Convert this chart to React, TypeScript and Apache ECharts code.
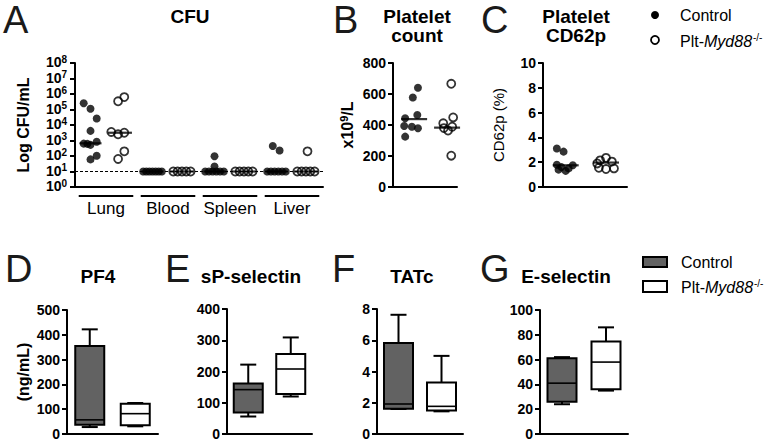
import React, { useEffect, useRef } from 'react';
import * as echarts from 'echarts';

const FONT = '"Liberation Sans", Arial, Helvetica, sans-serif';

// ---------- Panel A: CFU (log10 CFU/mL) ----------
const tissues = ['Lung', 'Blood', 'Spleen', 'Liver'];
const lungCtrl = [5.4, 5.05, 4.42, 3.62, 2.8, 2.78, 2.72, 2.92, 1.78, 2.02];
const lungCtrlJit = [-0.22, 0, 0.2, 0, -0.22, -0.1, 0, 0.2, 0, 0.2];
const lungKo = [5.8, 5.53, 3.55, 3.4, 3.5, 2.3, 1.81];
const lungKoJit = [0.14, -0.06, -0.28, -0.06, 0.14, 0.14, -0.06];
const bloodCtrl = [1, 1, 1, 1, 1, 1, 1];
const bloodCtrlJit = [-0.3, -0.2, -0.1, 0, 0.1, 0.2, 0.3];
const bloodKo = [1, 1, 1, 1, 1];
const bloodKoJit = [-0.28, -0.14, 0, 0.14, 0.28];
const spleenCtrl = [1.98, 1.32, 1, 1, 1, 1, 1, 1];
const spleenCtrlJit = [0, 0, -0.3, -0.18, -0.06, 0.06, 0.18, 0.3];
const spleenKo = [1, 1, 1, 1, 1];
const spleenKoJit = [-0.28, -0.14, 0, 0.14, 0.28];
const liverCtrl = [2.65, 2.35, 1, 1, 1, 1, 1, 1];
const liverCtrlJit = [-0.12, 0.1, -0.3, -0.18, -0.06, 0.06, 0.18, 0.3];
const liverKo = [2.3, 1, 1, 1, 1, 1];
const liverKoJit = [0.05, -0.28, -0.14, 0, 0.14, 0.28];
const cfuMedianCtrl = [2.82, 1, 1, 1];
const cfuMedianKo = [3.5, 1, 1, 1];
const detectionLimit = 1;
const cfuExponents = [0, 8];

// ---------- Panel B: platelet count (x10^9/L) ----------
const plateletCtrl = [640, 577, 464, 443, 394, 389, 379, 325];
const plateletCtrlJit = [0.12, -0.04, 0.1, -0.28, -0.31, -0.07, 0.12, -0.28];
const plateletKo = [666, 449, 411, 389, 380, 364, 202];
const plateletKoJit = [0.13, 0.19, -0.12, 0.16, -0.1, 0.03, 0.13];
const plateletMedian = [438, 383];

// ---------- Panel C: platelet CD62p (%) ----------
const cd62pCtrl = [3.1, 2.85, 1.8, 1.75, 1.6, 1.5, 1.4, 1.3];
const cd62pCtrlJit = [-0.21, -0.05, -0.21, 0.17, -0.1, 0.07, -0.17, 0];
const cd62pKo = [2.35, 2.15, 2.05, 1.9, 1.55, 1.5, 1.45];
const cd62pKoJit = [0, -0.14, 0.14, -0.21, -0.17, 0.19, 0];
const cd62pMedian = [1.75, 1.97];

// ---------- Panels D-G: box plots [min, Q1, median, Q3, max] ----------
const groups = ['Control', 'Plt-Myd88-/-'];
const pf4Ctrl = [28, 37, 57, 355, 422];
const pf4Ko = [31, 35, 82, 122, 125];
const sPselCtrl = [56, 69, 142, 162, 222];
const sPselKo = [120, 128, 208, 256, 309];
const tatcCtrl = [1.6, 1.62, 1.92, 5.82, 7.63];
const tatcKo = [1.45, 1.5, 1.77, 3.3, 5.0];
const eSelCtrl = [24, 26, 41, 61, 62];
const eSelKo = [35, 36, 58, 74.5, 86];

const BLACK = '#000';
const GRAY = '#626262';

function pts(vals: number[], jit: number[], pos: number) {
  return vals.map((v, i) => [pos + jit[i], v]);
}

function yAxis(gridIndex: number, min: number, max: number, interval: number, extra: any = {}) {
  return {
    type: 'value',
    gridIndex,
    min,
    max,
    interval,
    axisLine: { show: true, lineStyle: { color: BLACK, width: 2 } },
    axisTick: { show: true, length: 5, lineStyle: { color: BLACK, width: 2 } },
    axisLabel: {
      color: BLACK, fontSize: 14, fontWeight: 'bold', fontFamily: FONT, margin: 7,
      showMinLabel: true, showMaxLabel: true, hideOverlap: false,
    },
    splitLine: { show: false },
    nameLocation: 'middle',
    nameTextStyle: { color: BLACK, fontFamily: FONT, fontSize: 16, fontWeight: 'bold' },
    ...extra,
  };
}

function xAxis(gridIndex: number, extra: any) {
  return {
    gridIndex,
    axisLine: { show: true, onZero: false, lineStyle: { color: BLACK, width: 2 } },
    axisTick: { show: false },
    axisLabel: { show: false },
    splitLine: { show: false },
    ...extra,
  };
}

const filledStyle = { color: BLACK };
const openStyle = { color: 'rgba(255,255,255,0)', borderColor: BLACK, borderWidth: 1.8 };

function scatter(name: string, idx: number, data: number[][], open: boolean, extra: any = {}) {
  return {
    type: 'scatter',
    name,
    xAxisIndex: idx,
    yAxisIndex: idx,
    data,
    symbol: 'circle',
    symbolSize: 8,
    itemStyle: open ? openStyle : filledStyle,
    clip: false,
    z: 2,
    silent: true,
    ...extra,
  };
}

function medians(idx: number, data: number[][], width: number) {
  return {
    type: 'scatter',
    name: 'median',
    xAxisIndex: idx,
    yAxisIndex: idx,
    data,
    symbol: 'rect',
    symbolSize: [width, 2.2],
    itemStyle: { color: BLACK },
    clip: false,
    z: 4,
    silent: true,
  };
}

function boxSeries(idx: number, ctrl: number[], ko: number[]) {
  return {
    type: 'custom',
    name: 'box',
    xAxisIndex: idx,
    yAxisIndex: idx,
    dimensions: ['g', 'min', 'q1', 'med', 'q3', 'max'],
    encode: { x: 0, y: [1, 2, 3, 4, 5] },
    data: [[0, ...ctrl], [1, ...ko]],
    clip: false,
    silent: true,
    renderItem: (params: any, api: any) => {
      const g = api.value(0);
      const p = [1, 2, 3, 4, 5].map((d) => api.coord([g, api.value(d)]));
      const x = p[0][0];
      const half = 14.5;
      const cap = 8;
      const ls = { stroke: BLACK, lineWidth: 2 };
      return {
        type: 'group',
        children: [
          { type: 'line', shape: { x1: x, y1: p[4][1], x2: x, y2: p[3][1] }, style: ls },
          { type: 'line', shape: { x1: x - cap, y1: p[4][1], x2: x + cap, y2: p[4][1] }, style: ls },
          { type: 'line', shape: { x1: x, y1: p[1][1], x2: x, y2: p[0][1] }, style: ls },
          { type: 'line', shape: { x1: x - cap, y1: p[0][1], x2: x + cap, y2: p[0][1] }, style: ls },
          {
            type: 'rect',
            shape: { x: x - half, y: p[3][1], width: half * 2, height: p[1][1] - p[3][1] },
            style: { fill: g === 0 ? GRAY : '#fff', stroke: BLACK, lineWidth: 2 },
          },
          { type: 'line', shape: { x1: x - half, y1: p[2][1], x2: x + half, y2: p[2][1] }, style: { stroke: BLACK, lineWidth: 1.6 } },
        ],
      };
    },
  };
}

function buildOption() {
  const ctrlPosA = tissues.map((_, i) => 2 * i + 0.5);
  const koPosA = tissues.map((_, i) => 2 * i + 1.45);
  const ctrlA = [
    ...pts(lungCtrl, lungCtrlJit, ctrlPosA[0]),
    ...pts(bloodCtrl, bloodCtrlJit, ctrlPosA[1]),
    ...pts(spleenCtrl, spleenCtrlJit, ctrlPosA[2]),
    ...pts(liverCtrl, liverCtrlJit, ctrlPosA[3]),
  ];
  const koA = [
    ...pts(lungKo, lungKoJit, koPosA[0]),
    ...pts(bloodKo, bloodKoJit, koPosA[1]),
    ...pts(spleenKo, spleenKoJit, koPosA[2]),
    ...pts(liverKo, liverKoJit, koPosA[3]),
  ];
  const bPos = [0.66, 1.69];
  const cPos = [0.54, 1.5];

  const titleStyle = { color: BLACK, fontFamily: FONT, fontSize: 19, fontWeight: 'bold', lineHeight: 19 };
  const mkTitle = (text: string, left: number, top: number) => ({
    text, left, top, textAlign: 'center', padding: 0, textStyle: titleStyle,
  });

  const letter = (t: string, x: number, y: number) => ({
    type: 'text', x, y,
    style: { text: t, fontSize: 38, lineHeight: 30, fontFamily: FONT, fill: '#1a1a1a', verticalAlign: 'middle', align: 'left' },
  });

  const myd = {
    n: { fontSize: 16, fontFamily: FONT, fill: BLACK, verticalAlign: 'bottom' },
    i: { fontSize: 16, fontFamily: FONT, fontStyle: 'italic', fill: BLACK, verticalAlign: 'bottom' },
    s: { fontSize: 10, fontFamily: FONT, fill: BLACK, verticalAlign: 'bottom', padding: [0, 0, 7, 1] },
  };
  const legText = (text: string, x: number, y: number) => ({
    type: 'text', x, y,
    style: { text, rich: myd, fontSize: 16, fontFamily: FONT, fill: BLACK, verticalAlign: 'middle', align: 'left' },
  });

  return {
    animation: false,
    backgroundColor: '#fff',
    title: [
      mkTitle('CFU', 190, 7),
      mkTitle('Platelet\ncount', 417, 7),
      mkTitle('Platelet\nCD62p', 576, 7),
      mkTitle('PF4', 98, 267),
      mkTitle('sP-selectin', 251, 267),
      mkTitle('TATc', 412, 267),
      mkTitle('E-selectin', 566, 267),
    ],
    grid: [
      { left: 75, top: 63, width: 248, height: 124 },
      { left: 393, top: 63, width: 64, height: 124 },
      { left: 543, top: 63, width: 84, height: 124 },
      { left: 67, top: 310, width: 91, height: 124 },
      { left: 227, top: 309, width: 85, height: 125 },
      { left: 377, top: 309, width: 86, height: 125 },
      { left: 540, top: 310, width: 88, height: 124 },
    ],
    xAxis: [
      xAxis(0, { type: 'value', min: 0, max: 8 }),
      xAxis(1, { type: 'value', min: 0, max: 2 }),
      xAxis(2, { type: 'value', min: 0, max: 2 }),
      xAxis(3, { type: 'category', data: groups }),
      xAxis(4, { type: 'category', data: groups }),
      xAxis(5, { type: 'category', data: groups }),
      xAxis(6, { type: 'category', data: groups }),
    ],
    yAxis: [
      yAxis(0, cfuExponents[0], cfuExponents[1], 1, {
        name: 'Log CFU/mL',
        nameGap: 44,
        axisLabel: {
          color: BLACK, fontFamily: FONT, margin: 8,
          showMinLabel: true, showMaxLabel: true, hideOverlap: false, interval: 0,
          formatter: (v: number) => `{b|10}{s|${v}}`,
          rich: {
            b: { fontSize: 14, lineHeight: 12, fontWeight: 'bold', fontFamily: FONT, color: BLACK, verticalAlign: 'bottom' },
            s: { fontSize: 10, lineHeight: 9, fontWeight: 'bold', fontFamily: FONT, color: BLACK, verticalAlign: 'bottom', padding: [0, 0, 5, 0] },
          },
        },
      }),
      yAxis(1, 0, 800, 200, {
        name: 'x10{s|9}/L',
        nameGap: 37,
        nameTextStyle: {
          color: BLACK, fontFamily: FONT, fontSize: 16, fontWeight: 'bold',
          rich: {
            s: { fontSize: 11, fontWeight: 'bold', fontFamily: FONT, color: BLACK, verticalAlign: 'bottom', padding: [0, 0, 7, 0] },
          },
        },
      }),
      yAxis(2, 0, 10, 2, {
        name: 'CD62p (%)',
        nameGap: 37,
        nameTextStyle: { color: '#000000', fontFamily: FONT, fontSize: 15, fontWeight: 'normal' },
      }),
      yAxis(3, 0, 500, 100, {
        name: '(ng/mL)',
        nameGap: 36,
        nameTextStyle: { color: '#000000', fontFamily: FONT, fontSize: 16, fontWeight: 'bold' },
      }),
      yAxis(4, 0, 400, 100),
      yAxis(5, 0, 8, 2),
      yAxis(6, 0, 100, 20),
    ],
    series: [
      // Panel A
      scatter('Control', 0, ctrlA, false, {
        markLine: {
          silent: true,
          symbol: ['none', 'none'],
          label: { show: false },
          lineStyle: { color: BLACK, type: [3, 2], width: 1 },
          data: [{ yAxis: detectionLimit }],
        },
      }),
      scatter('Plt-Myd88-/-', 0, koA, true),
      medians(0, ctrlPosA.map((x, i) => [x, cfuMedianCtrl[i]]), 22),
      medians(0, koPosA.map((x, i) => [x, cfuMedianKo[i]]), 24),
      {
        type: 'custom',
        name: 'tissues',
        xAxisIndex: 0,
        yAxisIndex: 0,
        clip: false,
        silent: true,
        data: tissues.map((_, i) => [2 * i + 1, 0]),
        renderItem: (params: any, api: any) => {
          const c = api.value(0);
          const cs = params.coordSys;
          const x0 = api.coord([c - 0.88, 0])[0];
          const x1 = api.coord([c + 0.88, 0])[0];
          const xc = api.coord([c, 0])[0];
          const y = cs.y + cs.height + 9;
          return {
            type: 'group',
            children: [
              { type: 'line', shape: { x1: x0, y1: y, x2: x1, y2: y }, style: { stroke: BLACK, lineWidth: 1.8 } },
              {
                type: 'text',
                style: {
                  text: tissues[params.dataIndex], x: xc, y: y + 12,
                  align: 'center', verticalAlign: 'middle',
                  fontSize: 17, fontFamily: FONT, fill: BLACK,
                },
              },
            ],
          };
        },
      },
      // Panel B
      scatter('Control', 1, pts(plateletCtrl, plateletCtrlJit, bPos[0]), false),
      scatter('Plt-Myd88-/-', 1, pts(plateletKo, plateletKoJit, bPos[1]), true),
      medians(1, bPos.map((x, i) => [x, plateletMedian[i]]), 26),
      // Panel C
      scatter('Control', 2, pts(cd62pCtrl, cd62pCtrlJit, cPos[0]), false),
      scatter('Plt-Myd88-/-', 2, pts(cd62pKo, cd62pKoJit, cPos[1]), true),
      medians(2, cPos.map((x, i) => [x, cd62pMedian[i]]), 26),
      // Panels D-G
      boxSeries(3, pf4Ctrl, pf4Ko),
      boxSeries(4, sPselCtrl, sPselKo),
      boxSeries(5, tatcCtrl, tatcKo),
      boxSeries(6, eSelCtrl, eSelKo),
    ],
    graphic: [
      letter('A', 3, 20),
      letter('B', 333, 20),
      letter('C', 481, 20),
      letter('D', 5, 269),
      letter('E', 165, 269),
      letter('F', 332, 269),
      letter('G', 480, 269),
      // top legend
      { type: 'circle', shape: { cx: 655, cy: 15, r: 4 }, style: { fill: BLACK } },
      legText('Control', 680, 15),
      { type: 'circle', shape: { cx: 655, cy: 40, r: 4 }, style: { fill: '#fff', stroke: BLACK, lineWidth: 1.8 } },
      legText('{n|Plt-}{i|Myd88}{s|-/-}', 680, 41),
      // bottom legend
      { type: 'rect', shape: { x: 643, y: 257, width: 24, height: 10 }, style: { fill: GRAY, stroke: BLACK, lineWidth: 2 } },
      legText('Control', 681, 262),
      { type: 'rect', shape: { x: 643, y: 281, width: 24, height: 11 }, style: { fill: '#fff', stroke: BLACK, lineWidth: 2 } },
      legText('{n|Plt-}{i|Myd88}{s|-/-}', 681, 287),
    ],
  };
}

export default function App() {
  const ref = useRef<HTMLDivElement>(null);
  useEffect(() => {
    if (!ref.current) return;
    const chart = echarts.init(ref.current, null, { renderer: 'svg' });
    chart.setOption(buildOption() as any);
    return () => chart.dispose();
  }, []);
  return (
    <div
      ref={ref}
      style={{ position: 'fixed', left: 0, top: 0, width: 778, height: 443, background: '#fff' }}
    />
  );
}
